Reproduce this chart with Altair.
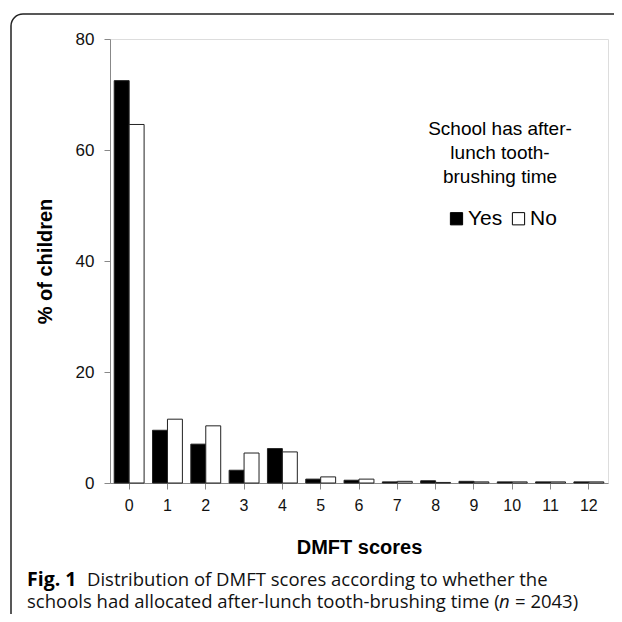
import altair as alt
import pandas as pd

scores = [str(i) for i in range(13)]
yes_pct = [72.5, 9.5, 7.0, 2.3, 6.2, 0.7, 0.5, 0.2, 0.4, 0.3, 0.2, 0.2, 0.2]
no_pct = [64.6, 11.5, 10.3, 5.4, 5.6, 1.1, 0.7, 0.3, 0.1, 0.2, 0.2, 0.2, 0.2]
groups = ["Yes", "No"]
y_ticks = [0, 20, 40, 60, 80]

legend_title = ["School has after-", "lunch tooth-", "brushing time"]
cap1_bold = "Fig. 1"
cap1_rest = "Distribution of DMFT scores according to whether the"
cap2_a = "schools had allocated after-lunch tooth-brushing time ("
cap2_n = "n"
cap2_b = "= 2043)"

rows = []
for s, a, b in zip(scores, yes_pct, no_pct):
    rows.append({"score": s, "group": "Yes", "pct": a})
    rows.append({"score": s, "group": "No", "pct": b})
df = pd.DataFrame(rows)
one = pd.DataFrame({"k": [0]})

W, H = 498, 444
AX = "Liberation Sans"
CAP = "Open Sans"
CS = 18.5

bars = alt.Chart(df).mark_bar(stroke="#222", strokeWidth=1).encode(
    x=alt.X("score:N", sort=scores,
            scale=alt.Scale(paddingInner=0.22, paddingOuter=0.11),
            axis=alt.Axis(title="DMFT scores", labelAngle=0, labelFont=AX, labelFontSize=16,
                          labelColor="#111", labelPadding=8, tickSize=6, tickColor="#888",
                          domainColor="#888", titleFont=AX, titleFontSize=20,
                          titleFontWeight="bold", titleColor="black", titlePadding=24)),
    xOffset=alt.XOffset("group:N", sort=groups, scale=alt.Scale(paddingInner=0, paddingOuter=0)),
    y=alt.Y("pct:Q", scale=alt.Scale(domain=[0, 80], nice=False),
            axis=alt.Axis(values=y_ticks, title="% of children", grid=False, labelFont=AX,
                          labelFontSize=17, labelColor="#111", labelPadding=10, tickSize=6,
                          tickColor="#888", domainColor="#888", titleFont=AX, titleFontSize=20,
                          titleFontWeight="bold", titleColor="black", titlePadding=20)),
    fill=alt.Fill("group:N", sort=groups,
                  scale=alt.Scale(domain=groups, range=["black", "white"]),
                  legend=alt.Legend(orient="none", legendX=336, legendY=169, direction="horizontal",
                                    title=None, symbolType="square", symbolSize=150,
                                    symbolStrokeColor="black", symbolStrokeWidth=1,
                                    labelFont=AX, labelFontSize=21, labelColor="black",
                                    columnPadding=5, labelOffset=1, padding=0)),
)

frame = alt.Chart(one).mark_rect(fillOpacity=0, stroke="#222", strokeWidth=1.5, cornerRadius=12).encode(
    x=alt.value(-99), x2=alt.value(620), y=alt.value(-25), y2=alt.value(620)
)

ltitle = alt.Chart(one).mark_text(font=AX, fontSize=19, align="center", baseline="alphabetic",
                                   lineHeight=24, color="black").encode(
    x=alt.value(390), y=alt.value(96), text=alt.value(legend_title)
)

c1 = alt.Chart(one).mark_text(font=CAP, fontSize=19.5, fontWeight="bold", align="left",
                               baseline="alphabetic", color="black").encode(
    x=alt.value(-83), y=alt.value(547), text=alt.value(cap1_bold))
c2 = alt.Chart(one).mark_text(font=CAP, fontSize=CS, align="left",
                               baseline="alphabetic", color="#111").encode(
    x=alt.value(-23), y=alt.value(547), text=alt.value(cap1_rest))
c3 = alt.Chart(one).mark_text(font=CAP, fontSize=CS, align="left",
                               baseline="alphabetic", color="#111").encode(
    x=alt.value(-83), y=alt.value(569), text=alt.value(cap2_a))
c4 = alt.Chart(one).mark_text(font=CAP, fontSize=CS, fontStyle="italic", align="left",
                               baseline="alphabetic", color="#111").encode(
    x=alt.value(389), y=alt.value(569), text=alt.value(cap2_n))
c5 = alt.Chart(one).mark_text(font=CAP, fontSize=CS, align="left",
                               baseline="alphabetic", color="#111").encode(
    x=alt.value(405), y=alt.value(569), text=alt.value(cap2_b))

chart = alt.layer(frame, bars, ltitle, c1, c2, c3, c4, c5).properties(
    width=W, height=H,
    autosize=alt.AutoSizeParams(type="none"),
    padding={"left": 102, "top": 31, "right": 6, "bottom": 131},
).configure_view(stroke="#888", strokeWidth=1).configure(background="white")

chart.save("out.html", embed_options={"renderer": "svg", "actions": False})
